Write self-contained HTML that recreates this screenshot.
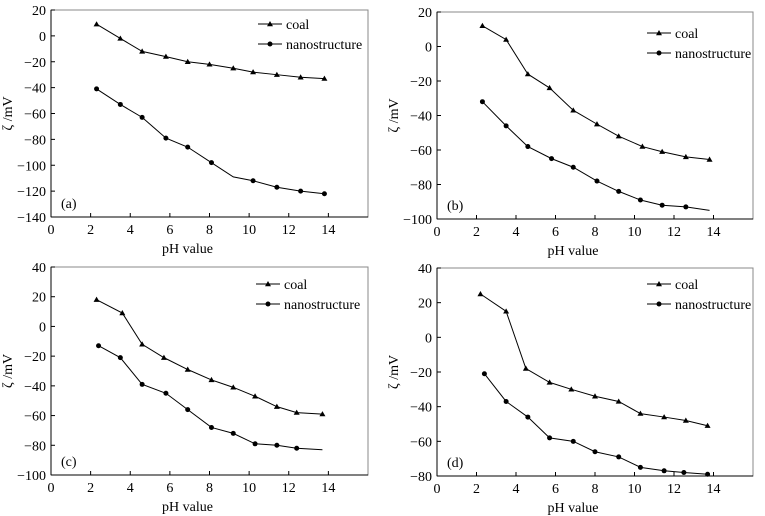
<!DOCTYPE html>
<html><head><meta charset="utf-8"><style>
html,body{margin:0;padding:0;background:#fff;}
svg{display:block;font-family:"Liberation Serif",serif;}
</style></head><body>
<svg id="fig" width="765" height="516" viewBox="0 0 765 516" xmlns="http://www.w3.org/2000/svg"></svg>
<script>
const xTicks = [0,2,4,6,8,10,12,14];
const aCoalX = [2.3,3.5,4.6,5.8,6.9,8.0,9.2,10.2,11.4,12.6,13.8];
const aCoalY = [9,-2,-12,-16,-20,-22,-25,-28,-30,-32,-33];
const aNanoX = [2.3,3.5,4.6,5.8,6.9,8.1,9.2,10.2,11.4,12.6,13.8];
const aNanoY = [-41,-53,-63,-79,-86,-98,-109,-112,-117,-120,-122];
const aNanoMark = [1,1,1,1,1,1,0,1,1,1,1];
const bCoalX = [2.3,3.5,4.6,5.7,6.9,8.1,9.2,10.4,11.4,12.6,13.8];
const bCoalY = [12,4,-16,-24,-37,-45,-52,-58,-61,-64,-65.5];
const bNanoX = [2.3,3.5,4.6,5.8,6.9,8.1,9.2,10.3,11.4,12.6,13.8];
const bNanoY = [-32,-46,-58,-65,-70,-78,-84,-89,-92,-93,-95];
const bNanoMark = [1,1,1,1,1,1,1,1,1,1,0];
const cCoalX = [2.3,3.6,4.6,5.7,6.9,8.1,9.2,10.3,11.4,12.4,13.7];
const cCoalY = [18,9,-12,-21,-29,-36,-41,-47,-54,-58,-59];
const cNanoX = [2.4,3.5,4.6,5.8,6.9,8.1,9.2,10.3,11.4,12.4,13.7];
const cNanoY = [-13,-21,-39,-45,-56,-68,-72,-79,-80,-82,-83];
const cNanoMark = [1,1,1,1,1,1,1,1,1,1,0];
const dCoalX = [2.2,3.5,4.5,5.7,6.8,8.0,9.2,10.3,11.5,12.6,13.7];
const dCoalY = [25,15,-18,-26,-30,-34,-37,-44,-46,-48,-51];
const dNanoX = [2.4,3.5,4.6,5.7,6.9,8.0,9.2,10.3,11.5,12.5,13.7];
const dNanoY = [-21,-37,-46,-58,-60,-66,-69,-75,-77,-78,-79];
const dNanoMark = [1,1,1,1,1,1,1,1,1,1,1];
const aYTicks = [20,0,-20,-40,-60,-80,-100,-120,-140];
const bYTicks = [20,0,-20,-40,-60,-80,-100];
const cYTicks = [40,20,0,-20,-40,-60,-80,-100];
const dYTicks = [40,20,0,-20,-40,-60,-80];

const NS="http://www.w3.org/2000/svg";
const svg=document.getElementById('fig');
function mk(tag,attrs,parent){const e=document.createElementNS(NS,tag);for(const k in attrs)e.setAttribute(k,attrs[k]);(parent||svg).appendChild(e);return e;}

const panels=[
 {id:'a',L:51,R:368,T:10,B:217,yT:aYTicks,cx:aCoalX,cy:aCoalY,nx:aNanoX,ny:aNanoY,nm:aNanoMark,lx:258,ly:24},
 {id:'b',L:437,R:753,T:12,B:219,yT:bYTicks,cx:bCoalX,cy:bCoalY,nx:bNanoX,ny:bNanoY,nm:bNanoMark,lx:647,ly:33},
 {id:'c',L:51,R:368,T:267,B:475,yT:cYTicks,cx:cCoalX,cy:cCoalY,nx:cNanoX,ny:cNanoY,nm:cNanoMark,lx:256,ly:284},
 {id:'d',L:437,R:753,T:268,B:476,yT:dYTicks,cx:dCoalX,cy:dCoalY,nx:dNanoX,ny:dNanoY,nm:dNanoMark,lx:647,ly:284}
];
panels.forEach(p=>{
 const g=mk('g',{});
 
 
 const ymax=Math.max(...p.yT), ymin=Math.min(...p.yT);
 const sx=v=>p.L+(v-0)/16*(p.R-p.L);
 const sy=v=>p.T+(ymax-v)/(ymax-ymin)*(p.B-p.T);
 const frame=mk('rect',{x:p.L,y:p.T,width:p.R-p.L,height:p.B-p.T,fill:'none',stroke:'#888','stroke-width':1},g);
 
 
 const ax=mk('line',{x1:p.L,y1:p.T,x2:p.L,y2:p.B,stroke:'#000','stroke-width':1},g);
 
 
 const bx=mk('line',{x1:p.L,y1:p.B,x2:p.R,y2:p.B,stroke:'#000','stroke-width':1},g);
 
 
 xTicks.forEach(t=>{
  mk('line',{x1:sx(t),y1:p.B,x2:sx(t),y2:p.B-4,stroke:'#000'},g);
  const tx=mk('text',{x:sx(t),y:p.B+17,'text-anchor':'middle','font-size':14},g);
  tx.textContent=t;
  
  
 });
 p.yT.forEach(t=>{
  mk('line',{x1:p.L,y1:sy(t),x2:p.L+4,y2:sy(t),stroke:'#000'},g);
  const tx=mk('text',{x:p.L-5,y:sy(t)+5,'text-anchor':'end','font-size':14},g);
  tx.textContent=(t<0?'\u2212'+(-t):t);
  
  
 });
 const xt=mk('text',{x:(p.L+p.R)/2-22,y:p.B+36,'text-anchor':'middle','font-size':14},g);
 xt.textContent='pH value';
 
 
 const yx=p.L-39, yy=(p.T+p.B)/2;
 const yt=mk('text',{x:yx,y:yy,'text-anchor':'middle','font-size':14,transform:`rotate(-90 ${yx} ${yy})`},g);
 yt.textContent='ζ /mV';
 
 
 const pl=mk('text',{x:p.L+10,y:p.B-9,'font-size':14},g);
 pl.textContent='('+p.id+')';
 
 
 const tri=(x,y)=>`M${x},${y-3} L${x+3},${y+2.2} L${x-3},${y+2.2} Z`;
 const cl=mk('polyline',{points:p.cx.map((v,i)=>sx(v)+','+sy(p.cy[i])).join(' '),fill:'none',stroke:'#000','stroke-width':1},g);
 
 
 p.cx.forEach((v,i)=>{
  const m=mk('path',{d:tri(sx(v),sy(p.cy[i])),fill:'#000'},g);
  
  
 });
 const nl=mk('polyline',{points:p.nx.map((v,i)=>sx(v)+','+sy(p.ny[i])).join(' '),fill:'none',stroke:'#000','stroke-width':1},g);
 
 
 p.nx.forEach((v,i)=>{
  if(!p.nm[i])return;
  const m=mk('circle',{cx:sx(v),cy:sy(p.ny[i]),r:2.5,fill:'#000'},g);
  
  
 });
 const lg=mk('g',{},g);
 
 
 mk('line',{x1:p.lx,y1:p.ly,x2:p.lx+24,y2:p.ly,stroke:'#000'},lg);
 mk('path',{d:tri(p.lx+12,p.ly),fill:'#000'},lg);
 const t1=mk('text',{x:p.lx+28,y:p.ly+5,'font-size':14},lg);
 t1.textContent='coal';
 
 
 mk('line',{x1:p.lx,y1:p.ly+20,x2:p.lx+24,y2:p.ly+20,stroke:'#000'},lg);
 mk('circle',{cx:p.lx+12,cy:p.ly+20,r:2.5,fill:'#000'},lg);
 const t2=mk('text',{x:p.lx+28,y:p.ly+25,'font-size':14},lg);
 t2.textContent='nanostructure';
 
 
});
</script>
</body></html>
